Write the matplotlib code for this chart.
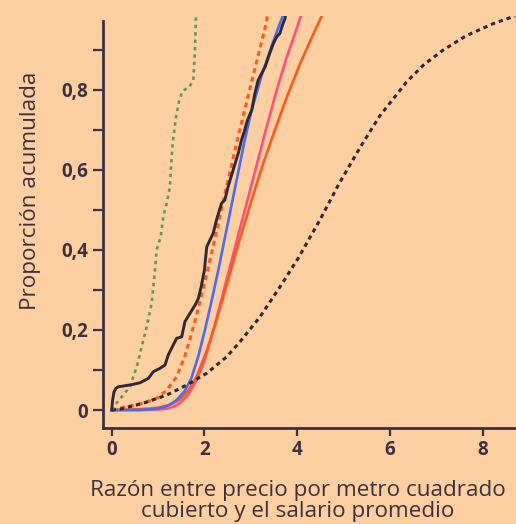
import matplotlib
matplotlib.use("Agg")
import matplotlib.pyplot as plt

# ---------------- data ----------------
green_x = [0.0, 0.02, 0.07, 0.25, 0.395, 0.539, 0.647, 0.755, 0.862, 0.934, 0.97, 1.057, 1.113, 1.186,
           1.257, 1.279, 1.315, 1.387, 1.458, 1.531, 1.673, 1.76, 1.796, 1.818, 1.83]
green_y = [0.0, 0.004, 0.0125, 0.0375, 0.058, 0.108, 0.158, 0.208, 0.267, 0.35, 0.40, 0.433, 0.483, 0.517,
           0.558, 0.608, 0.667, 0.733, 0.775, 0.798, 0.807, 0.825, 0.90, 0.983, 1.0]

obs_x = [0.0, 0.02, 0.05, 0.09, 0.14, 0.39, 0.61, 0.79, 0.90, 1.04, 1.15, 1.22, 1.29, 1.40, 1.51, 1.58,
         1.69, 1.80, 1.87, 1.93, 2.00, 2.05, 2.19, 2.26, 2.37, 2.44, 2.51, 2.62, 2.73, 2.80, 2.87, 2.92,
         3.02, 3.09, 3.16, 3.31, 3.41, 3.49, 3.56, 3.63, 3.67, 3.74, 3.76]
obs_y = [0.0, 0.025, 0.045, 0.054, 0.058, 0.0625, 0.068, 0.079, 0.096, 0.104, 0.1125, 0.1375, 0.154,
         0.179, 0.183, 0.221, 0.242, 0.2625, 0.279, 0.308, 0.35, 0.408, 0.442, 0.475, 0.517, 0.525, 0.558,
         0.60, 0.642, 0.675, 0.70, 0.722, 0.75, 0.792, 0.825, 0.858, 0.892, 0.917, 0.933, 0.942, 0.958,
         0.979, 1.0]

blue_x = [0.0, 0.6, 0.9, 1.1, 1.25, 1.40, 1.58, 1.72, 1.87, 2.01, 2.16, 2.30, 2.44, 2.59, 2.73, 2.87,
          3.01, 3.23, 3.45, 3.59, 3.69, 3.72]
blue_y = [0.0, 0.0, 0.002, 0.006, 0.013, 0.025, 0.048, 0.08, 0.135, 0.20, 0.275, 0.35, 0.43, 0.515,
          0.595, 0.675, 0.745, 0.835, 0.91, 0.955, 0.985, 1.0]

pink_x = [0.0, 0.5, 0.9, 1.05, 1.19, 1.35, 1.47, 1.65, 1.83, 1.95, 2.05, 2.23, 2.37, 2.51, 2.77, 2.98,
          3.16, 3.31, 3.56, 3.77, 3.95, 4.08, 4.12]
pink_y = [0.0, 0.0, 0.0005, 0.0015, 0.003, 0.009, 0.017, 0.038, 0.075, 0.108, 0.142, 0.215, 0.277, 0.34,
          0.455, 0.547, 0.627, 0.694, 0.80, 0.88, 0.94, 0.985, 1.0]

orange_x = [0.0, 0.3, 0.6, 0.85, 1.0, 1.19, 1.33, 1.47, 1.65, 1.83, 2.05, 2.23, 2.37, 2.51, 2.77, 3.02,
            3.23, 3.45, 3.77, 4.06, 4.31, 4.53, 4.58]
orange_y = [0.0, 0.0005, 0.002, 0.004, 0.006, 0.011, 0.017, 0.026, 0.048, 0.083, 0.148, 0.212, 0.268,
            0.325, 0.43, 0.525, 0.603, 0.677, 0.78, 0.865, 0.93, 0.985, 1.0]

orange_dot_x = [0.0, 0.32, 0.68, 0.97, 1.19, 1.40, 1.58, 1.72, 1.87, 2.01, 2.15, 2.30, 2.44, 2.58, 2.73,
                2.91, 3.05, 3.20, 3.34, 3.37]
orange_dot_y = [0.0, 0.008, 0.017, 0.029, 0.05, 0.083, 0.135, 0.19, 0.255, 0.32, 0.39, 0.465, 0.54, 0.61,
                0.685, 0.77, 0.835, 0.905, 0.97, 1.0]

black_dot_x = [0.0, 0.18, 0.68, 1.19, 1.62, 2.05, 2.48, 2.77, 3.20, 3.63, 4.02, 4.49, 4.90, 5.35, 5.78,
               6.36, 6.72, 7.15, 7.65, 8.23, 8.70]
black_dot_y = [0.0, 0.002, 0.017, 0.0375, 0.0625, 0.092, 0.133, 0.171, 0.233, 0.308, 0.379, 0.475, 0.565,
               0.655, 0.735, 0.82, 0.862, 0.90, 0.936, 0.966, 0.985]

x_ticks = [0, 2, 4, 6, 8]
y_major = [0, 0.2, 0.4, 0.6, 0.8]
y_labels = ["0", "0,2", "0,4", "0,6", "0,8"]
y_minor = [0.1, 0.3, 0.5, 0.7, 0.9]

x_title = "Razón entre precio por metro cuadrado\ncubierto y el salario promedio"
y_title = "Proporción acumulada"

# ---------------- style ----------------
BG = "#FECFA0"
INK = "#3A3142"
plt.rcParams['font.family'] = ['Open Sans', 'DejaVu Sans']

fig = plt.figure(figsize=(5.16, 5.24), dpi=100, facecolor=BG)
ax = fig.add_axes([103/516, (524-428)/524, 413/516, (428-16)/524])
ax.set_facecolor(BG)

ax.plot(pink_x, pink_y, color="#FF4F7E", lw=1.9, zorder=3)
ax.plot(orange_x, orange_y, color="#FF5A1A", lw=1.9, zorder=3.1)
ax.plot(blue_x, blue_y, color="#4A6CF2", lw=1.9, zorder=3.2)
ax.plot(orange_dot_x, orange_dot_y, color="#FF5A1A", lw=2.2, ls=(0, (1.6, 1.3)), zorder=3.3)
ax.plot(black_dot_x, black_dot_y, color="#2E2838", lw=2.2, ls=(0, (1.4, 1.3)), zorder=3.4)
ax.plot(green_x, green_y, color="#5E9A52", lw=1.9, ls=(0, (1.3, 1.5)), zorder=3.5)
ax.plot(obs_x, obs_y, color="#2E2838", lw=2.1, zorder=4)

ax.set_xlim(-0.1875, 8.72)
ax.set_ylim(-0.045, 0.985)

for s in ["top", "right"]:
    ax.spines[s].set_visible(False)
for s in ["left", "bottom"]:
    ax.spines[s].set_color(INK)
    ax.spines[s].set_linewidth(2.0)
ax.spines["left"].set_bounds(-0.045, 0.972)

ax.set_xticks(x_ticks)
ax.set_xticklabels([str(t) for t in x_ticks])
ax.set_yticks(y_major)
ax.set_yticklabels(y_labels)
ax.set_yticks(y_minor, minor=True)
ax.tick_params(axis='y', which='both', length=7, width=1.6, color=INK, pad=3.5)
ax.tick_params(axis='x', which='both', length=5.5, width=1.6, color=INK, pad=3.0)
for lab in ax.get_xticklabels() + ax.get_yticklabels():
    lab.set_fontsize(13.5)
    lab.set_fontweight('bold')
    lab.set_color(INK)

fig.text(297.5/516, (524-501)/524, x_title, ha='center', va='center', fontsize=16.2,
         color=INK, linespacing=0.98)
fig.text(31/516, (524-191)/524, y_title, ha='center', va='center', rotation=90,
         fontsize=16.2, color=INK)

fig.savefig("out.png", dpi=100, facecolor=BG)
